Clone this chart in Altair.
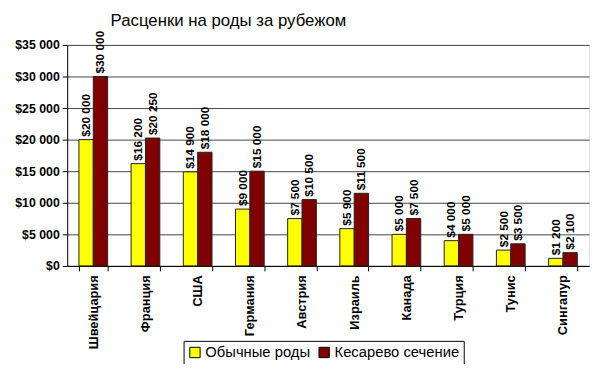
import altair as alt
import pandas as pd

countries = ["Швейцария", "Франция", "США", "Германия", "Австрия",
             "Израиль", "Канада", "Турция", "Тунис", "Сингапур"]
normal = [20000, 16200, 14900, 9000, 7500, 5900, 5000, 4000, 2500, 1200]
cesarean = [30000, 20250, 18000, 15000, 10500, 11500, 7500, 5000, 3500, 2100]
series = ["Обычные роды", "Кесарево сечение"]
colors = ["#FFFF00", "#800000"]
y_ticks = [0, 5000, 10000, 15000, 20000, 25000, 30000, 35000]


def money(v):
    return "$" + f"{v:,}".replace(",", " ")


rows = []
for c, a, b in zip(countries, normal, cesarean):
    rows.append({"country": c, "series": series[0], "value": a, "label": money(a)})
    rows.append({"country": c, "series": series[1], "value": b, "label": money(b)})
df = pd.DataFrame(rows)

FONT = "Liberation Sans, Arial, sans-serif"

x = alt.X("country:N", sort=countries,
          scale=alt.Scale(paddingInner=0.45, paddingOuter=0.225),
          axis=alt.Axis(title=None, labelAngle=270, labelFontWeight="bold",
                        labelFontSize=13, labelFont=FONT, labelColor="#000",
                        tickBand="extent", domainColor="#000", tickColor="#000",
                        tickSize=5, labelPadding=4))
xo = alt.XOffset("series:N", sort=series)
y = alt.Y("value:Q",
          scale=alt.Scale(domain=[0, 35000], nice=False),
          axis=alt.Axis(title=None, values=y_ticks,
                        labelExpr="'$' + replace(format(datum.value, ','), /,/g, ' ')",
                        labelFontWeight="bold", labelFontSize=12.5, labelFont=FONT,
                        labelColor="#000", grid=True, gridColor="#444",
                        gridWidth=1, domainColor="#000", tickColor="#000",
                        tickSize=5, labelPadding=3))

bars = alt.Chart(df).mark_bar(stroke="#222", strokeWidth=1).encode(
    x=x, xOffset=xo, y=y,
    color=alt.Color("series:N", sort=series,
                    scale=alt.Scale(domain=series, range=colors),
                    legend=alt.Legend(title=None, orient="none", direction="horizontal",
                                      legendX=118, legendY=300,
                                      labelFont=FONT, labelFontSize=15,
                                      labelColor="#000", symbolType="square",
                                      symbolSize=110, symbolStrokeColor="#000",
                                      symbolStrokeWidth=1, strokeColor="#000",
                                      padding=4, columnPadding=6,
                                      labelOffset=3)),
)

labels = alt.Chart(df).mark_text(angle=270, align="left", baseline="middle",
                                 dx=3, font=FONT, fontSize=12, fontWeight="bold",
                                 color="#000").encode(
    x=x, xOffset=xo, y=y, text="label:N")

chart = (bars + labels).properties(
    width=529, height=224,
    title=alt.Title("Расценки на роды за рубежом", anchor="start", frame="group",
                    dx=44, font=FONT, fontSize=17, fontWeight="normal",
                    color="#000", offset=1),
    autosize=alt.AutoSizeParams(type="none"),
    padding={"left": 60, "top": 35, "right": 3, "bottom": 97},
).configure_view(stroke="transparent").configure(background="white")

chart.save("out.html", embed_options={"renderer": "svg", "actions": False})
